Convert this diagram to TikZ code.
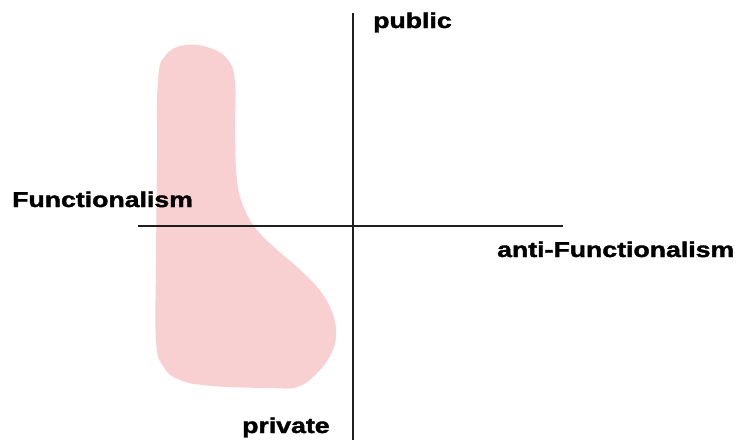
\documentclass[tikz,border=0pt]{standalone}
\usepackage{fontspec}
\usepackage{graphicx}
\setmainfont{Liberation Sans}
\newfontfamily\labfont[FakeBold=1.5]{Liberation Sans Bold}
\definecolor{blobpink}{HTML}{F8D0D2}
\definecolor{axisgray}{HTML}{1E1E1E}
\tikzset{
  axisline/.style={draw=axisgray, line width=2pt},
  axislabel/.style={inner sep=0pt, anchor=base west, font=\labfont\fontsize{21.5pt}{25pt}\selectfont},
  region/.style={fill=blobpink, draw=none}
}
\newcommand{\wide}[1]{\scalebox{1.24}[1]{#1}}
\begin{document}
\begin{tikzpicture}[x=1pt, y=-1pt]
\useasboundingbox (0,0) rectangle (736,440);
\fill[white] (0,0) rectangle (736,440);
% shaded region
\path[region] plot[smooth cycle, tension=0.7] coordinates {
  (158,80) (166,55) (185,45) (210,48) (228,60) (235,82)
  (235,130) (237,180) (244,208) (257,230) (275,248) (297,267)
  (317,287) (330,307) (336,330) (332,352) (317,373) (297,387)
  (270,388) (213,386) (180,380) (163,366) (156,340) (156,263) (157,163)
};
% axes
\coordinate (vtop) at (353,13);
\coordinate (vbot) at (353,440);
\coordinate (hleft) at (138,225.5);
\coordinate (hright) at (563,225.5);
\draw[axisline] (vtop) -- (vbot);
\draw[axisline] (hleft) -- (hright);
% labels
\node[axislabel] (pub) at (373,28) {\wide{public}};
\node[axislabel] (func) at (12,207) {\wide{Functionalism}};
\node[axislabel] (anti) at (497,257) {\wide{anti-Functionalism}};
\node[axislabel] (priv) at (242,433) {\wide{private}};
\end{tikzpicture}
\end{document}
